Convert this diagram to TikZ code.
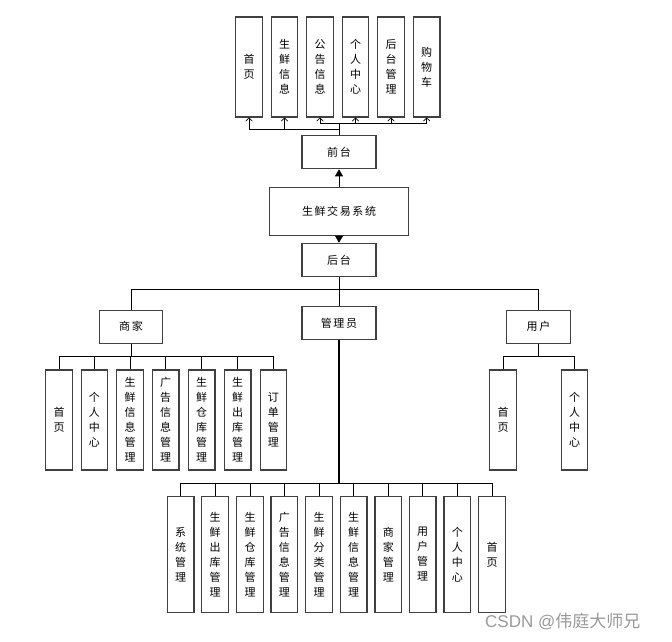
\documentclass[tikz,border=0pt]{standalone}
\usepackage{fontspec}
\newfontfamily\cjk{Noto Sans CJK SC}
\newfontfamily\lat{Liberation Sans}
\usetikzlibrary{arrows.meta}
\newcommand{\gp}{\hspace{1.6pt}}
\begin{document}
\begin{tikzpicture}[x=1pt,y=-1pt,
  box/.style={draw=black!75,line width=1.1pt,fill=white,inner sep=0pt,align=center,
    font=\cjk\fontsize{11pt}{15pt}\selectfont},
  vbox/.style={box,minimum width=26.5pt,minimum height=100pt},
  lbox/.style={box,minimum width=26.6pt,minimum height=115.6pt},
  hbox/.style={box,minimum width=74pt,minimum height=33.5pt},
  sbox/.style={box,minimum width=63.4pt,minimum height=33.3pt},
  conn/.style={draw=black,line width=0.8pt},
  upar/.style={conn,-{Straight Barb[length=3pt,width=6.5pt,line width=0.7pt]}},
  fillar/.style={conn,-{Triangle[length=7pt,width=8pt]}}]
\fill[white] (0,0) rectangle (672,641);
\useasboundingbox (0,0) rectangle (672,641);
% top row
\node[vbox] (t1) at (249,67) {首\\页};
\node[vbox] (t2) at (284.5,67) {生\\鲜\\信\\息};
\node[vbox] (t3) at (320,67) {公\\告\\信\\息};
\node[vbox] (t4) at (355.5,67) {个\\人\\中\\心};
\node[vbox] (t5) at (391,67) {后\\台\\管\\理};
\node[vbox] (t6) at (426.7,67) {购\\物\\车};
\node[hbox] (qt) at (339,152) {前\gp 台};
\node[box,minimum width=139pt,minimum height=48.5pt] (xt) at (339,211.5) {生\gp 鲜\gp 交\gp 易\gp 系\gp 统};
\node[hbox] (ht) at (339,260) {后\gp 台};
% second level
\node[sbox] (sj) at (131,326.7) {商\gp 家};
\node[hbox,minimum height=33pt] (gl) at (339,323) {管\gp 理\gp 员};
\node[sbox] (yh) at (538.5,326.7) {用\gp 户};
% merchant children
\node[vbox] (s1) at (59,420) {首\\页};
\node[vbox] (s2) at (94.3,420) {个\\人\\中\\心};
\node[vbox] (s3) at (130,420) {生\\鲜\\信\\息\\管\\理};
\node[vbox] (s4) at (165.7,420) {广\\告\\信\\息\\管\\理};
\node[vbox] (s5) at (201.7,420) {生\\鲜\\仓\\库\\管\\理};
\node[vbox] (s6) at (237.7,420) {生\\鲜\\出\\库\\管\\理};
\node[vbox] (s7) at (273.3,420) {订\\单\\管\\理};
% user children
\node[vbox] (u1) at (503,420) {首\\页};
\node[vbox] (u2) at (574.5,420) {个\\人\\中\\心};
% admin children
\node[lbox] (g1) at (180.7,554.5) {系\\统\\管\\理};
\node[lbox] (g2) at (215,554.5) {生\\鲜\\出\\库\\管\\理};
\node[lbox] (g3) at (250,554.5) {生\\鲜\\仓\\库\\管\\理};
\node[lbox] (g4) at (284.3,554.5) {广\\告\\信\\息\\管\\理};
\node[lbox] (g5) at (319,554.5) {生\\鲜\\分\\类\\管\\理};
\node[lbox] (g6) at (353.7,554.5) {生\\鲜\\信\\息\\管\\理};
\node[lbox] (g7) at (388.3,554.5) {商\\家\\管\\理};
\node[lbox] (g8) at (422.7,554.5) {用\\户\\管\\理};
\node[lbox] (g9) at (457.3,554.5) {个\\人\\中\\心};
\node[lbox] (g10) at (492,554.5) {首\\页};
% watermark
\node[anchor=west,text=black!40,inner sep=0pt] (wm) at (485,621.5) {\lat\fontsize{17pt}{17pt}\selectfont CSDN @\cjk 伟庭大师兄};
% connectors top
\coordinate (tr) at (339,123.3);
\coordinate (tl) at (339,129);
\draw[conn] (qt.north) -- (tr);
\foreach \i in {3,...,6} \draw[upar] (tr) -| (t\i.south);
\foreach \i in {1,2} \draw[upar] (tl) -| (t\i.south);
\draw[fillar] (xt.north) -- (qt.south);
\draw[fillar] (xt.south) -- (ht.north);
% backend bus
\coordinate (hb) at (339,289.3);
\draw[conn] (ht.south) -- (hb);
\draw[conn] (sj.north) |- (hb) -| (yh.north);
\draw[conn] (hb) -- (gl.north);
% merchant bus
\coordinate (sb) at (131,356);
\draw[conn] (sj.south) -- (sb);
\foreach \i in {1,...,7} \draw[conn] (sb) -| (s\i.north);
% user bus
\coordinate (ub) at (538.5,356);
\draw[conn] (yh.south) -- (ub);
\foreach \i in {1,2} \draw[conn] (ub) -| (u\i.north);
% admin bus
\coordinate (gb) at (339,483.3);
\draw[conn,line width=1.6pt] (gl.south) -- (gb);
\foreach \i in {1,...,10} \draw[conn] (gb) -| (g\i.north);
\end{tikzpicture}
\end{document}
